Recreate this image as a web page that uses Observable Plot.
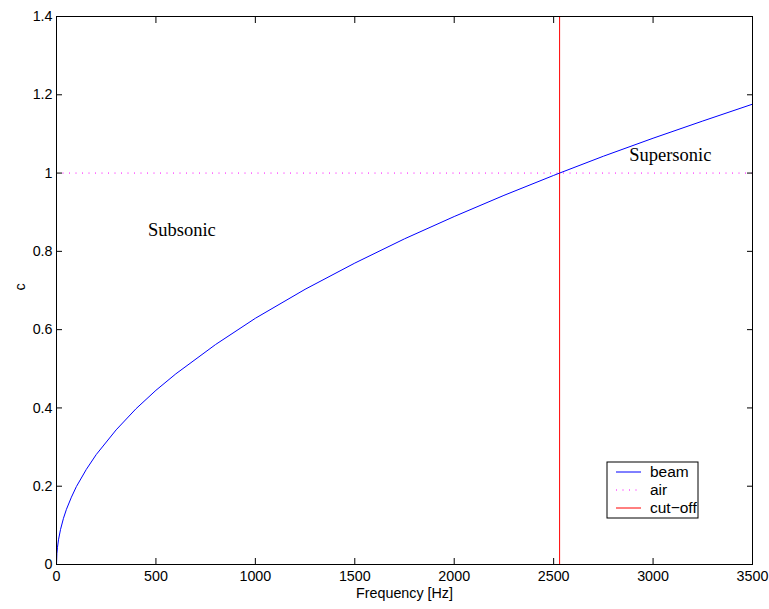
<!DOCTYPE html>
<html>
<head>
<meta charset="utf-8">
<script src="https://cdn.jsdelivr.net/npm/d3@7"></script>
<script src="https://cdn.jsdelivr.net/npm/@observablehq/plot@0.6"></script>
<style>
  body { margin: 0; background: #fff; }
  #chart { width: 769px; height: 609px; }
</style>
</head>
<body>
<div id="chart"></div>
<script>
// Bending-wave speed of the beam (relative to the speed of sound in air) vs frequency
const frequency = [0, 2, 5, 10, 20, 35, 50, 75, 100, 150, 200, 300, 400, 500, 600, 800,
  1000, 1250, 1500, 1750, 2000, 2250, 2500, 2530, 2750, 3000, 3250, 3500];
const beamSpeed = [0, 0.028, 0.044, 0.063, 0.089, 0.118, 0.141, 0.172, 0.199, 0.243,
  0.281, 0.344, 0.398, 0.445, 0.487, 0.562, 0.629, 0.703, 0.770, 0.832, 0.889, 0.943,
  0.994, 1.0, 1.043, 1.089, 1.133, 1.176];

const airSpeed = 1;
const cutoffFrequency = 2530;

const xTicks = [0, 500, 1000, 1500, 2000, 2500, 3000, 3500];
const yTicks = [0, 0.2, 0.4, 0.6, 0.8, 1, 1.2, 1.4];

const regionLabels = ["Subsonic", "Supersonic"];
const regionFrequency = [460, 2880];
const regionSpeed = [0.855, 1.045];

const legendLabels = ["beam", "air", "cut\u2212off"];
const legendColors = ["#0000ff", "#ff00ff", "#ff0000"];
const legendDash = [null, "1,5.5", null];

const beam = frequency.map((f, i) => ({f, c: beamSpeed[i]}));
const regions = regionLabels.map((label, i) => ({label, f: regionFrequency[i], c: regionSpeed[i]}));

const sans = "'Liberation Sans', Arial, Helvetica, sans-serif";
const serif = "'Liberation Serif', 'Times New Roman', serif";
const fmt = d => String(+d.toFixed(1));
const blank = () => "";

const chart = Plot.plot({
  width: 769,
  height: 609,
  marginLeft: 56,
  marginRight: 17,
  marginTop: 16,
  marginBottom: 45,
  style: {fontFamily: sans, fontSize: "14.3px", color: "#000", background: "#fff"},
  x: {domain: [0, 3500]},
  y: {domain: [0, 1.4]},
  marks: [
    Plot.ruleY([airSpeed], {stroke: "#ff00ff", strokeWidth: 1, strokeDasharray: "1,5.5"}),
    Plot.ruleX([cutoffFrequency], {stroke: "#ff0000", strokeWidth: 1}),
    Plot.line(beam, {x: "f", y: "c", stroke: "#0000ff", strokeWidth: 1}),
    Plot.text(regions, {x: "f", y: "c", text: "label", textAnchor: "start",
      fontFamily: serif, fontSize: 18.5, fill: "#000"}),
    Plot.frame({stroke: "#000", strokeWidth: 1}),
    // tick labels
    Plot.axisX(xTicks, {anchor: "bottom", tickSize: 0, tickPadding: 6, tickFormat: fmt, label: null}),
    Plot.axisY(yTicks, {anchor: "left", tickSize: 0, tickPadding: 4, tickFormat: fmt, label: null}),
    // inward ticks on all four sides
    Plot.axisX(xTicks, {anchor: "bottom", tickSize: -6, tickFormat: blank, label: null}),
    Plot.axisX(xTicks, {anchor: "top", tickSize: -6, tickFormat: blank, label: null}),
    Plot.axisY(yTicks, {anchor: "left", tickSize: -6, tickFormat: blank, label: null}),
    Plot.axisY(yTicks, {anchor: "right", tickSize: -6, tickFormat: blank, label: null}),
    // axis titles
    Plot.text(["Frequency [Hz]"], {frameAnchor: "bottom", dy: 33, text: d => d, fill: "#000"}),
    Plot.text(["c"], {frameAnchor: "left", dx: -36, rotate: -90, text: d => d, fill: "#000"})
  ]
});

// Legend box in the lower right of the axes
const svg = d3.select(chart);
const lg = svg.append("g").attr("transform", "translate(607,462)");
lg.append("rect").attr("width", 91).attr("height", 56)
  .attr("fill", "#fff").attr("stroke", "#000").attr("stroke-width", 1);
legendLabels.forEach((label, i) => {
  const y = 10 + i * 18;
  lg.append("line").attr("x1", 9).attr("x2", 34).attr("y1", y).attr("y2", y)
    .attr("stroke", legendColors[i]).attr("stroke-width", 1)
    .attr("stroke-dasharray", legendDash[i]);
  lg.append("text").attr("x", 43).attr("y", y).attr("dy", "0.35em")
    .attr("text-anchor", "start")
    .attr("font-family", sans).attr("font-size", 15.5).attr("fill", "#000")
    .text(label);
});

document.getElementById("chart").append(chart);
</script>
</body>
</html>
